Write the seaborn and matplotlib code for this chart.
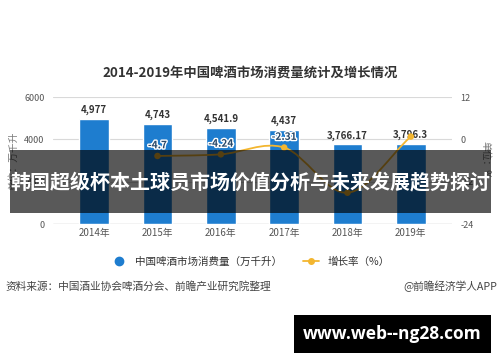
import numpy as np
import pandas as pd
import seaborn as sns
import matplotlib.pyplot as plt
from matplotlib.path import Path
from matplotlib.patches import PathPatch, Rectangle
from matplotlib.lines import Line2D
import matplotlib.patheffects as pe

years = ["2014年", "2015年", "2016年", "2017年", "2018年", "2019年"]
volume = [4977, 4743, 4541.9, 4437, 3766.17, 3796.3]
volume_labels = ["4,977", "4,743", "4,541.9", "4,437", "3,766.17", "3,796.3"]
growth_years = [1, 2, 3, 4, 5]  # index of 2015..2019
growth = [-4.7, -4.24, -2.31, -15.12, 0.8]
growth_labels = ["-4.7", "-4.24", "-2.31", "", ""]

left_ticks = [0, 2000, 4000, 6000]
right_ticks = [-24, -12, 0, 12]

BLUE = "#1e7dcf"
GOLD = "#f3b630"

sns.set_theme(style="white")
plt.rcParams["font.family"] = ["Noto Sans CJK SC", "DejaVu Sans"]

fig = plt.figure(figsize=(5, 3.62), dpi=100)
ax = fig.add_axes([0.106, 0.381, 0.798, 0.351])

df = pd.DataFrame({"year": years, "volume": volume})
sns.barplot(data=df, x="year", y="volume", color=BLUE, width=0.47, ax=ax,
            saturation=1, zorder=2)
ax.set_ylim(0, 6000)
ax.set_xlim(-0.65, 5.65)
ax.set_yticks(left_ticks)
ax.set_yticklabels([str(t) for t in left_ticks])
for y in left_ticks:
    ax.axhline(y, color="#d9d9d9", lw=0.8, zorder=0)
ax.axhline(0, color="#bbbbbb", lw=0.9, zorder=1)
for s in ax.spines.values():
    s.set_visible(False)
ax.tick_params(axis="y", labelsize=6.5, colors="#555555", length=0, pad=6)
ax.tick_params(axis="x", labelsize=7, colors="#555555", length=0, pad=3)
ax.set_xlabel("")
ax.set_ylabel("单位：万千升", fontsize=7, color="#777777", labelpad=4)

for i, (v, lab) in enumerate(zip(volume, volume_labels)):
    ax.text(i, v + 180, lab, ha="center", va="bottom", fontsize=7,
            fontweight="bold", color="#333333", zorder=5)

ax2 = ax.twinx()
ax2.set_ylim(-24, 12)
ax2.set_yticks(right_ticks)
ax2.set_yticklabels([str(t) for t in right_ticks])
ax2.tick_params(axis="y", labelsize=6.5, colors="#555555", length=0, pad=6)
for s in ax2.spines.values():
    s.set_visible(False)
ax2.set_ylabel("单位：%", fontsize=7, color="#777777", rotation=270, labelpad=12)

# smooth growth line (Catmull-Rom as cubic bezier)
pts = np.column_stack([growth_years, growth]).astype(float)
verts = [tuple(pts[0])]
codes = [Path.MOVETO]
for k in range(len(pts) - 1):
    p0 = pts[k - 1] if k > 0 else pts[k]
    p1, p2 = pts[k], pts[k + 1]
    p3 = pts[k + 2] if k + 2 < len(pts) else pts[k + 1] + (pts[k + 1] - pts[k])
    c1 = p1 + (p2 - p0) / 6
    c2 = p2 - (p3 - p1) / 6
    verts += [tuple(c1), tuple(c2), tuple(p2)]
    codes += [Path.CURVE4] * 3
ax2.add_patch(PathPatch(Path(verts, codes), facecolor="none", edgecolor=GOLD,
                        lw=1.3, zorder=3))
sns.scatterplot(x=growth_years, y=growth, color=GOLD, s=22, edgecolor="none",
                ax=ax2, zorder=4)
for x, g, lab in zip(growth_years, growth, growth_labels):
    if lab:
        ax2.text(x, g + 1.6, lab, ha="center", va="bottom", fontsize=7.3,
                 fontweight="bold", color="#2a4a6a",
                 path_effects=[pe.withStroke(linewidth=2, foreground="white")],
                 zorder=6)

fig.text(0.5, 0.798, "2014-2019年中国啤酒市场消费量统计及增长情况", ha="center",
         va="center", fontsize=9.6, fontweight="bold", color="#333333")

handles = [
    Line2D([0], [0], marker="o", color="none", markerfacecolor=BLUE,
           markeredgecolor=BLUE, markersize=6),
    Line2D([0], [0], marker="o", color=GOLD, lw=1.3, markerfacecolor=GOLD,
           markeredgecolor=GOLD, markersize=4),
]
fig.legend(handles, ["中国啤酒市场消费量（万千升）", "增长率（%）"], loc="center",
           bbox_to_anchor=(0.5, 1 - 262 / 362), ncol=2, frameon=False,
           fontsize=7.6, handlelength=1.5, columnspacing=2, labelcolor="#333333")

fig.text(0.01, 1 - 286 / 362, "资料来源：中国酒业协会啤酒分会、前瞻产业研究院整理",
         ha="left", va="center", fontsize=7.7, color="#444444")
fig.text(0.995, 1 - 286 / 362, "@前瞻经济学人APP", ha="right", va="center",
         fontsize=7.7, color="#444444")

# overlay banner
fig.patches.append(Rectangle((10 / 500, 1 - 213 / 362), 481 / 500, 63 / 362,
                             transform=fig.transFigure, facecolor="black",
                             alpha=0.65, edgecolor="none", zorder=10))
fig.text(250.5 / 500, 1 - 182 / 362, "韩国超级杯本土球员市场价值分析与未来发展趋势探讨",
         ha="center", va="center", fontsize=14.4, fontweight="bold",
         color="white", zorder=11)

fig.patches.append(Rectangle((294 / 500, 1 - 353 / 362), 197 / 500, 38 / 362,
                             transform=fig.transFigure, facecolor="black",
                             edgecolor="none", zorder=10))
fig.text(392.5 / 500, 1 - 334 / 362, "www.web--ng28.com", ha="center",
         va="center", fontsize=12.5, fontweight="bold", color="white",
         family=["Open Sans", "DejaVu Sans"], zorder=11)

fig.savefig("out.png", dpi=100, facecolor="white")
